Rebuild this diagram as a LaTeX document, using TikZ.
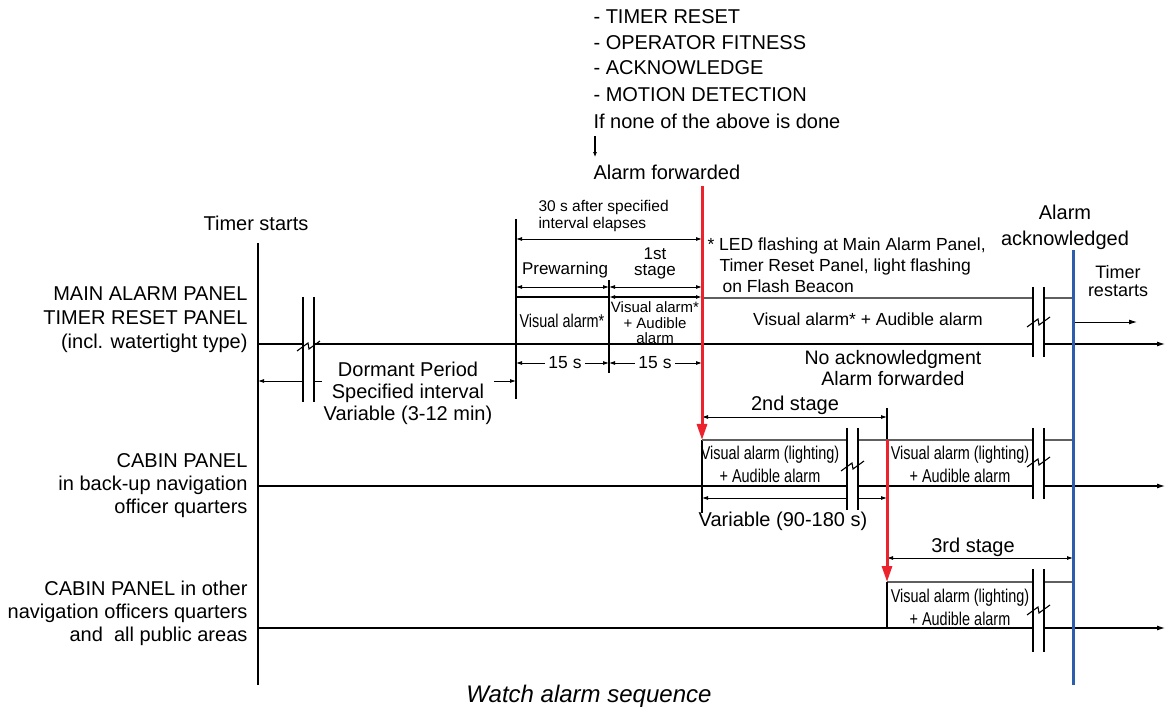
\documentclass[tikz,border=0pt]{standalone}
\usepackage{fontspec}
\setmainfont{Liberation Sans}
\newfontfamily\narrowfont[FakeStretch=0.78]{Liberation Sans}
\usetikzlibrary{arrows.meta}
\definecolor{alarmred}{RGB}{236,34,44}
\definecolor{ackblue}{RGB}{44,94,172}
\definecolor{boxgray}{RGB}{95,95,95}
\def\gapmark(#1:#2:#3:#4){\fill[white] (#1,#2) rectangle ({#1+11},#3);
	\draw (#1,#2) -- (#1,#3);
	\draw ({#1+11},#2) -- ({#1+11},#3);
	\draw ({#1-6},{#4+5}) -- ({#1+5},{#4-3}) -- ({#1+6},{#4+3}) -- ({#1+17},{#4-5});}

\begin{document}
\begin{tikzpicture}[x=1pt,y=-1pt,line width=1.1pt,
		every node/.style={inner sep=0pt},
		lbltxt/.style={font=\fontsize{20}{23}\selectfont, align=center},
		midtxt/.style={font=\fontsize{17.5}{21}\selectfont, align=center},
		notetxt/.style={font=\fontsize{15.5}{17}\selectfont, align=left},
		boxtxt/.style={font=\narrowfont\fontsize{18.5}{23}\selectfont, align=center},
		dimarrow/.style={{Latex[length=6pt,width=4pt]}-{Latex[length=6pt,width=4pt]}, line width=0.8pt},
		axisarrow/.style={-{Latex[length=8pt,width=5pt]}},
		grayline/.style={draw=boxgray, line width=1.5pt},
		redarrow/.style={draw=alarmred, line width=3pt, -{Triangle[length=16pt,width=10pt]}}]
	\useasboundingbox (0,0) rectangle (1168,708);
	
	\draw (258,243) -- (258,685);
	\draw[axisarrow] (258,344) -- (1165,344);
	\draw[axisarrow] (258,486) -- (1165,486);
	\draw[axisarrow] (258,628) -- (1165,628);
	
	\draw (516,219) -- (516,399);
	\draw (609,280) -- (609,373);
	\draw (516,297) -- (609,297);
	\draw[dimarrow, line width=1.4pt] (609,297) -- (702,297);
	\draw[grayline] (702,298) -- (1073,298);
	\draw[dimarrow] (516,239) -- (702,239);
	\draw[dimarrow] (516,287) -- (609,287);
	\draw[dimarrow] (609,287) -- (702,287);
	\draw[dimarrow] (516,363) -- (609,363);
	\draw[dimarrow] (609,363) -- (702,363);
	\draw[dimarrow] (258,381) -- (516,381);
	\draw[axisarrow, line width=0.9pt] (1073,322) -- (1137,322);
	
	\draw (702,440) -- (702,513);
	\draw (887,408) -- (887,440);
	\draw[grayline] (702,440) -- (1073,440);
	\draw[dimarrow] (702,417) -- (887,417);
	\draw[dimarrow] (702,498) -- (887,498);
	
	\draw[grayline] (887,582) -- (1073,582);
	\draw (887,582) -- (887,628);
	\draw[dimarrow] (887,558) -- (1073,558);
	
	\gapmark(303:297:402:346)
	\gapmark(1033:287:357:322)
	\gapmark(847:428:510:466)
	\gapmark(1033:428:499:462)
	\gapmark(1033:569:652:610)
	
	\draw[redarrow] (702,186) -- (702,440);
	\draw[redarrow] (887,440) -- (887,582);
	\draw[draw=ackblue, line width=3pt] (1073,250) -- (1073,685);
	
	\node[lbltxt, anchor=east, align=right, font=\fontsize{20}{24}\selectfont] (mainpanel) at (248,320) {MAIN ALARM PANEL\\TIMER RESET PANEL\\(incl. watertight type)};
	\node[lbltxt, anchor=east, align=right] (backuppanel) at (248,486) {CABIN PANEL\\in back-up navigation\\officer quarters};
	\node[lbltxt, anchor=east, align=right] (otherpanel) at (248,613) {CABIN PANEL in other\\navigation officers quarters\\and\ \ all public areas};
	
	\node[lbltxt] (timerstart) at (256,223) {Timer starts};
	\node[lbltxt, fill=white, inner sep=2pt, font=\fontsize{20}{22}\selectfont] (dormant) at (408,393) {Dormant Period\\Specified interval\\Variable (3-12 min)};
	\node[notetxt, anchor=west] (thirtys) at (538,216) {30 s after specified\\interval elapses};
	\node[midtxt, font=\fontsize{17}{16}\selectfont] (prewarn) at (565,270) {Prewarning};
	\node[midtxt, font=\fontsize{17}{16}\selectfont] (firststage) at (655,263) {1st\\stage};
	\node[boxtxt] (previsual) at (562,321) {Visual alarm*};
	\node[midtxt, font=\fontsize{15}{15.5}\selectfont] (firstvisual) at (655,323) {Visual alarm*\\+ Audible\\alarm};
	\node[midtxt, fill=white, inner sep=3pt] (fifteena) at (565,363) {15 s};
	\node[midtxt, fill=white, inner sep=3pt] (fifteenb) at (655,363) {15 s};
	\node[midtxt, anchor=west, align=left] (lednote) at (707,265) {* LED flashing at Main Alarm Panel,\\\hspace*{12pt}Timer Reset Panel, light flashing\\\hspace*{15pt}on Flash Beacon};
	\node[midtxt] (mainvisual) at (868,319) {Visual alarm* + Audible alarm};
	\node[lbltxt, font=\fontsize{19.5}{21}\selectfont] (noack) at (893,368) {No acknowledgment\\Alarm forwarded};
	\node[lbltxt, font=\fontsize{20}{26}\selectfont] (acked) at (1065,227) {Alarm\\acknowledged};
	\node[lbltxt, font=\fontsize{18}{18}\selectfont] (restart) at (1118,281) {Timer\\restarts};
	
	\node[lbltxt] (secondstage) at (795,405) {2nd stage};
	\node[boxtxt] (backupvisa) at (770,464) {Visual alarm (lighting)\\+ Audible alarm};
	\node[boxtxt] (backupvisb) at (960,464) {Visual alarm (lighting)\\+ Audible alarm};
	\node[lbltxt] (variable) at (783,521) {Variable (90-180 s)};
	\node[lbltxt] (thirdstage) at (973,547) {3rd stage};
	\node[boxtxt] (othervis) at (960,607) {Visual alarm (lighting)\\+ Audible alarm};
	
	\node[lbltxt, anchor=west] (resetitem) at (593,17) {- TIMER RESET};
	\node[lbltxt, anchor=west] (fitnessitem) at (593,43) {- OPERATOR FITNESS};
	\node[lbltxt, anchor=west] (ackitem) at (593,68) {- ACKNOWLEDGE};
	\node[lbltxt, anchor=west] (motionitem) at (593,95) {- MOTION DETECTION};
	\node[lbltxt, anchor=west] (nonedone) at (593,121) {If none of the above is done};
	\node[lbltxt, anchor=west] (forwarded) at (593,172) {Alarm forwarded};
	\draw[-{Latex[length=5pt,width=4pt]}, line width=1.2pt] ([xshift=2pt,yshift=-7pt]nonedone.south west) -- ([xshift=2pt,yshift=7pt]forwarded.north west);
	
	\node[font=\itshape\fontsize{24}{26}\selectfont] (caption) at (589,696) {Watch alarm sequence};
\end{tikzpicture}
\end{document}
